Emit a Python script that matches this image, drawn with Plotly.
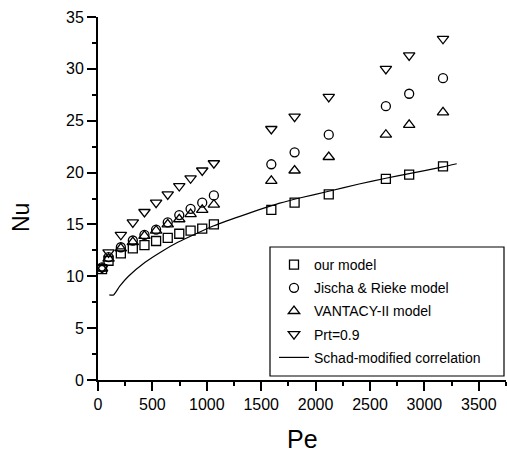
import plotly.graph_objects as go

# Data
pe = [37, 97, 210, 320, 427, 534, 641, 747, 851, 958, 1065, 1593, 1807, 2121, 2646, 2860, 3171]
nu_our = [10.7, 11.5, 12.2, 12.7, 13.0, 13.4, 13.7, 14.1, 14.4, 14.6, 15.0, 16.4, 17.1, 17.9, 19.4, 19.8, 20.6]
nu_jischa = [10.85, 11.85, 12.8, 13.45, 14.0, 14.5, 15.2, 15.9, 16.5, 17.1, 17.8, 20.8, 21.95, 23.65, 26.4, 27.6, 29.1]
nu_vantacy = [10.75, 11.7, 12.7, 13.3, 13.9, 14.4, 15.0, 15.5, 16.0, 16.4, 16.9, 19.2, 20.2, 21.5, 23.65, 24.6, 25.8]
nu_prt = [10.8, 12.3, 14.0, 15.2, 16.2, 17.1, 17.9, 18.7, 19.45, 20.2, 20.9, 24.2, 25.4, 27.3, 30.0, 31.3, 32.9]

pe_schad = [104, 143, 200, 280, 433, 586, 738, 900, 1059, 1364, 1670, 1853, 2121, 2400, 2646, 2860, 3171, 3297]
nu_schad = [8.2, 8.2, 9.05, 10.0, 11.35, 12.4, 13.3, 14.1, 14.85, 16.0, 17.05, 17.55, 18.2, 18.9, 19.45, 19.9, 20.55, 20.85]

x_ticks = [0, 500, 1000, 1500, 2000, 2500, 3000, 3500]
y_ticks = [0, 5, 10, 15, 20, 25, 30, 35]

FONT = "Liberation Sans, Arial, sans-serif"
mk_line = dict(color="black", width=1.3)

fig = go.Figure()
series = [
    ("our model", nu_our, "square-open", 9),
    ("Jischa & Rieke model", nu_jischa, "circle-open", 9),
    ("VANTACY-II model", nu_vantacy, "triangle-up-open", 10),
    ("Prt=0.9", nu_prt, "triangle-down-open", 10),
]
for i, (name, ys, sym, sz) in enumerate(series):
    fig.add_trace(go.Scatter(
        x=pe, y=ys, mode="markers", name=name, legendgroup=f"g{i}",
        marker=dict(symbol=sym, size=sz, color="black", line=mk_line),
    ))
fig.add_trace(go.Scatter(
    x=pe_schad, y=nu_schad, mode="lines", name="Schad-modified correlation", legendgroup="g5",
    line=dict(color="black", width=1.2, shape="spline", smoothing=0.6),
))

L, R, T, B = 98, 1, 17, 77
W, H = 507, 457
pw, ph = W - L - R, H - T - B

def px_x(p):
    return (p - L) / pw

def px_y(p):
    return (H - B - p) / ph

fig.update_layout(
    width=W, height=H,
    margin=dict(l=L, r=R, t=T, b=B),
    paper_bgcolor="white", plot_bgcolor="white",
    font=dict(family=FONT, color="black", size=16),
    showlegend=True,
    legend=dict(
        x=px_x(274), y=px_y(249), xanchor="left", yanchor="top",
        bgcolor="rgba(0,0,0,0)", borderwidth=0,
        font=dict(family=FONT, size=14, color="black"),
        itemwidth=30, tracegroupgap=2,
    ),
    xaxis=dict(
        range=[0, 3750], tickvals=x_ticks, ticktext=[str(v) for v in x_ticks],
        showgrid=False, zeroline=False, showline=True, linecolor="black", linewidth=2,
        ticks="outside", ticklen=9, tickwidth=1.5, tickcolor="black",
        minor=dict(ticks="outside", ticklen=4, tickwidth=1.5, tickcolor="black", dtick=250, tick0=0, showgrid=False),
        tickfont=dict(family=FONT, size=16),
    ),
    yaxis=dict(
        range=[0, 35], tickvals=y_ticks, ticktext=[str(v) for v in y_ticks],
        showgrid=False, zeroline=False, showline=True, linecolor="black", linewidth=2,
        ticks="outside", ticklen=9, tickwidth=1.5, tickcolor="black",
        minor=dict(ticks="outside", ticklen=4, tickwidth=1.5, tickcolor="black", dtick=2.5, tick0=0, showgrid=False),
        tickfont=dict(family=FONT, size=16),
    ),
    shapes=[dict(
        type="rect", xref="paper", yref="paper",
        x0=px_x(270), x1=px_x(504), y0=px_y(376), y1=px_y(247),
        line=dict(color="black", width=1.2), fillcolor="rgba(0,0,0,0)", layer="above",
    )],
    annotations=[
        dict(text="Pe", xref="paper", yref="paper", x=px_x(302), y=px_y(439),
             showarrow=False, font=dict(family=FONT, size=25), xanchor="center", yanchor="middle"),
        dict(text="Nu", xref="paper", yref="paper", x=px_x(21), y=px_y(218),
             showarrow=False, font=dict(family=FONT, size=23), textangle=-90,
             xanchor="center", yanchor="middle"),
    ],
)

fig.write_html("out.html")
